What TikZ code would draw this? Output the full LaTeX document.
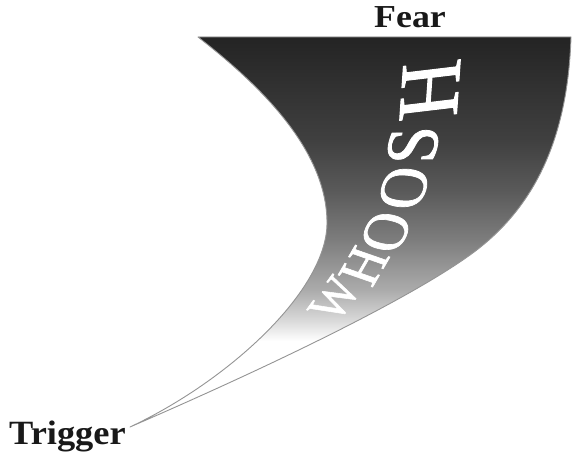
\documentclass[tikz,border=0pt]{standalone}
\usepackage{fontspec}
\setmainfont{Liberation Serif}
\newfontfamily\whooshfont[FakeBold=1.2]{Liberation Serif}
\pgfdeclareverticalshading{whoosh}{100bp}{color(0bp)=(white); color(36bp)=(white); color(38.7bp)=(black!15); color(42.6bp)=(black!33); color(49bp)=(black!51); color(55.4bp)=(black!65); color(61.8bp)=(black!75); color(75bp)=(black!86); color(100bp)=(black!86)}
\begin{document}
\begin{tikzpicture}[x=1pt,y=-1pt,
  edge/.style={draw=black!42, line width=0.9pt, line join=round},
  lbl/.style={font=\bfseries, inner sep=0pt, text=black!90},
  lt/.style={text=white, inner sep=0pt, xscale=0.95, xslant=-0.2}]
\useasboundingbox (0,0) rectangle (572,454);
\coordinate (trig) at (130,427);
\coordinate (tl) at (198,37);
\coordinate (bulge) at (327,223);
\coordinate (rmid) at (470,255);
\coordinate (tr) at (571,37);
\path[shading=whoosh]
  (tl) .. controls (260,85) and (327,150) .. (bulge)
       .. controls (327,290) and (230,380) .. (trig)
       .. controls (250,375) and (400,305) .. (rmid)
       .. controls (540,205) and (568,130) .. (tr) -- cycle;
% letters
\node[rotate=54, lt, font=\whooshfont\fontsize{50}{50}\selectfont] (l1) at (335,299) {W};
\node[rotate=60, lt, font=\whooshfont\fontsize{55}{55}\selectfont] (l2) at (364,266) {H};
\node[rotate=66, lt, font=\whooshfont\fontsize{60}{60}\selectfont] (l3) at (386,232) {O};
\node[rotate=73, lt, font=\whooshfont\fontsize{64}{64}\selectfont] (l4) at (404,188) {O};
\node[rotate=80, lt, font=\whooshfont\fontsize{72}{72}\selectfont] (l5) at (413,145) {S};
\node[rotate=86, lt, font=\whooshfont\fontsize{86}{86}\selectfont] (l6) at (430,90) {H};
\draw[edge]
  (tl) .. controls (260,85) and (327,150) .. (bulge)
       .. controls (327,290) and (230,380) .. (trig)
       .. controls (250,375) and (400,305) .. (rmid)
       .. controls (540,205) and (568,130) .. (tr) -- cycle;
\node[lbl, anchor=base west, font=\bfseries\fontsize{34}{34}\selectfont, xscale=1.07] (trigger) at (9,444) {Trigger};
\node[lbl, anchor=base, font=\bfseries\fontsize{32}{32}\selectfont, xscale=1.12] (fear) at (410,28) {Fear};
\end{tikzpicture}
\end{document}
